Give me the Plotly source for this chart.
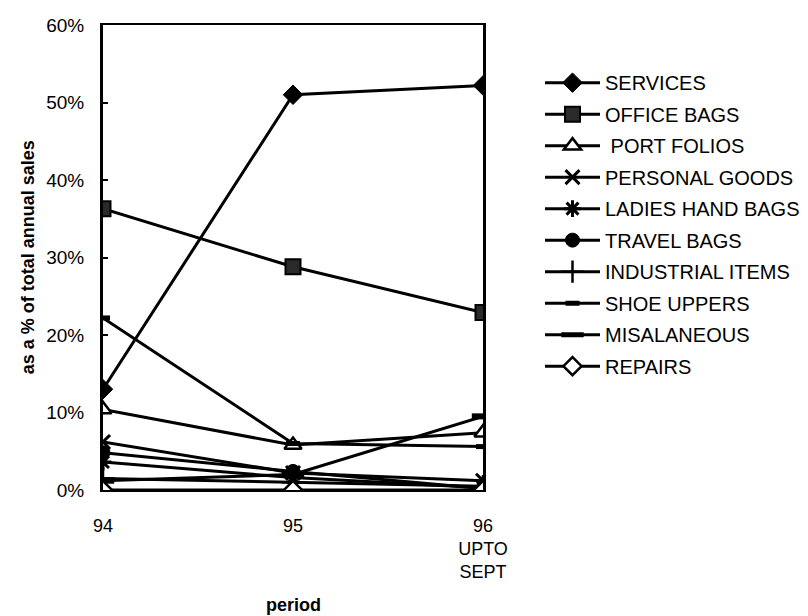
import plotly.graph_objects as go

# Share of total annual sales (%) by product line, per period
periods = ["94", "95", "96<br>UPTO<br>SEPT"]

services = [13.0, 51.0, 52.2]
office_bags = [36.3, 28.8, 22.9]
port_folios = [10.4, 5.8, 7.4]
personal_goods = [6.2, 2.2, 1.2]
ladies_hand_bags = [3.6, 1.6, 0.3]
travel_bags = [4.8, 2.4, 0.2]
industrial_items = [1.5, 1.0, 0.5]
shoe_uppers = [22.2, 6.0, 5.6]
misalaneous = [1.2, 2.0, 9.5]
repairs = [0.0, 0.0, 0.0]

series_names = ["SERVICES", "OFFICE BAGS", " PORT FOLIOS", "PERSONAL GOODS",
                "LADIES HAND BAGS", "TRAVEL BAGS", "INDUSTRIAL ITEMS",
                "SHOE UPPERS", "MISALANEOUS", "REPAIRS"]
series_values = [services, office_bags, port_folios, personal_goods,
                 ladies_hand_bags, travel_bags, industrial_items,
                 shoe_uppers, misalaneous, repairs]

# marker look for each series: (symbol, size, fill, outline width)
marker_styles = [
    ("diamond", 15, "black", 1),
    ("square", 15, "#2a2a2a", 2),
    ("triangle-up", 15, "white", 2.5),
    ("x-thin-open", 14, "black", 3),
    ("asterisk-open", 14, "black", 3),
    ("circle", 14, "black", 1),
    ("cross-thin-open", 16, "black", 2.5),
    ("line-ew-open", 10, "black", 5),
    ("line-ew-open", 16, "black", 6),
    ("diamond", 14, "white", 2.5),
]

fig = go.Figure()
for i, (name, vals, (sym, size, fill, lw)) in enumerate(
        zip(series_names, series_values, marker_styles)):
    fig.add_trace(go.Scatter(
        x=periods, y=vals, name=name, mode="lines+markers",
        legendgroup=f"g{i}",
        line=dict(color="black", width=3),
        marker=dict(symbol=sym, size=size, color=fill,
                    line=dict(color="black", width=lw)),
    ))

font_family = "Liberation Sans, Arial, sans-serif"

fig.update_layout(
    width=808, height=616,
    margin=dict(l=103, r=325, t=25, b=126, autoexpand=False),
    paper_bgcolor="white", plot_bgcolor="white",
    font=dict(family=font_family, size=19, color="black"),
    showlegend=True,
    legend=dict(x=1.15, y=0.918, xanchor="left", yanchor="top",
                font=dict(size=20), itemwidth=55,
                bgcolor="rgba(0,0,0,0)", tracegroupgap=2.5),
)

# axis titles placed as paper annotations
fig.add_annotation(text="<b>period</b>", xref="paper", yref="paper",
                   x=0.5, y=-0.248, xanchor="center", yanchor="middle",
                   showarrow=False, font=dict(size=18))
fig.add_annotation(text="<b>as a % of total annual sales</b>", xref="paper", yref="paper",
                   x=-0.198, y=0.5, xanchor="center", yanchor="middle", textangle=-90,
                   showarrow=False, font=dict(size=18))

fig.update_xaxes(
    type="category", range=[0, 2], automargin=False,
    showgrid=False, zeroline=False,
    showline=True, linecolor="black", linewidth=2, mirror=True,
    ticks="", ticklabelstandoff=18,
    tickfont=dict(size=18),
)

fig.update_yaxes(
    range=[0, 60], dtick=10, ticksuffix="%", automargin=False,
    showgrid=False, zeroline=False,
    showline=True, linecolor="black", linewidth=3, mirror=True,
    ticks="inside", ticklen=5, tickwidth=1.5, tickcolor="black",
    ticklabelstandoff=12,
)

fig.write_html("out.html")
